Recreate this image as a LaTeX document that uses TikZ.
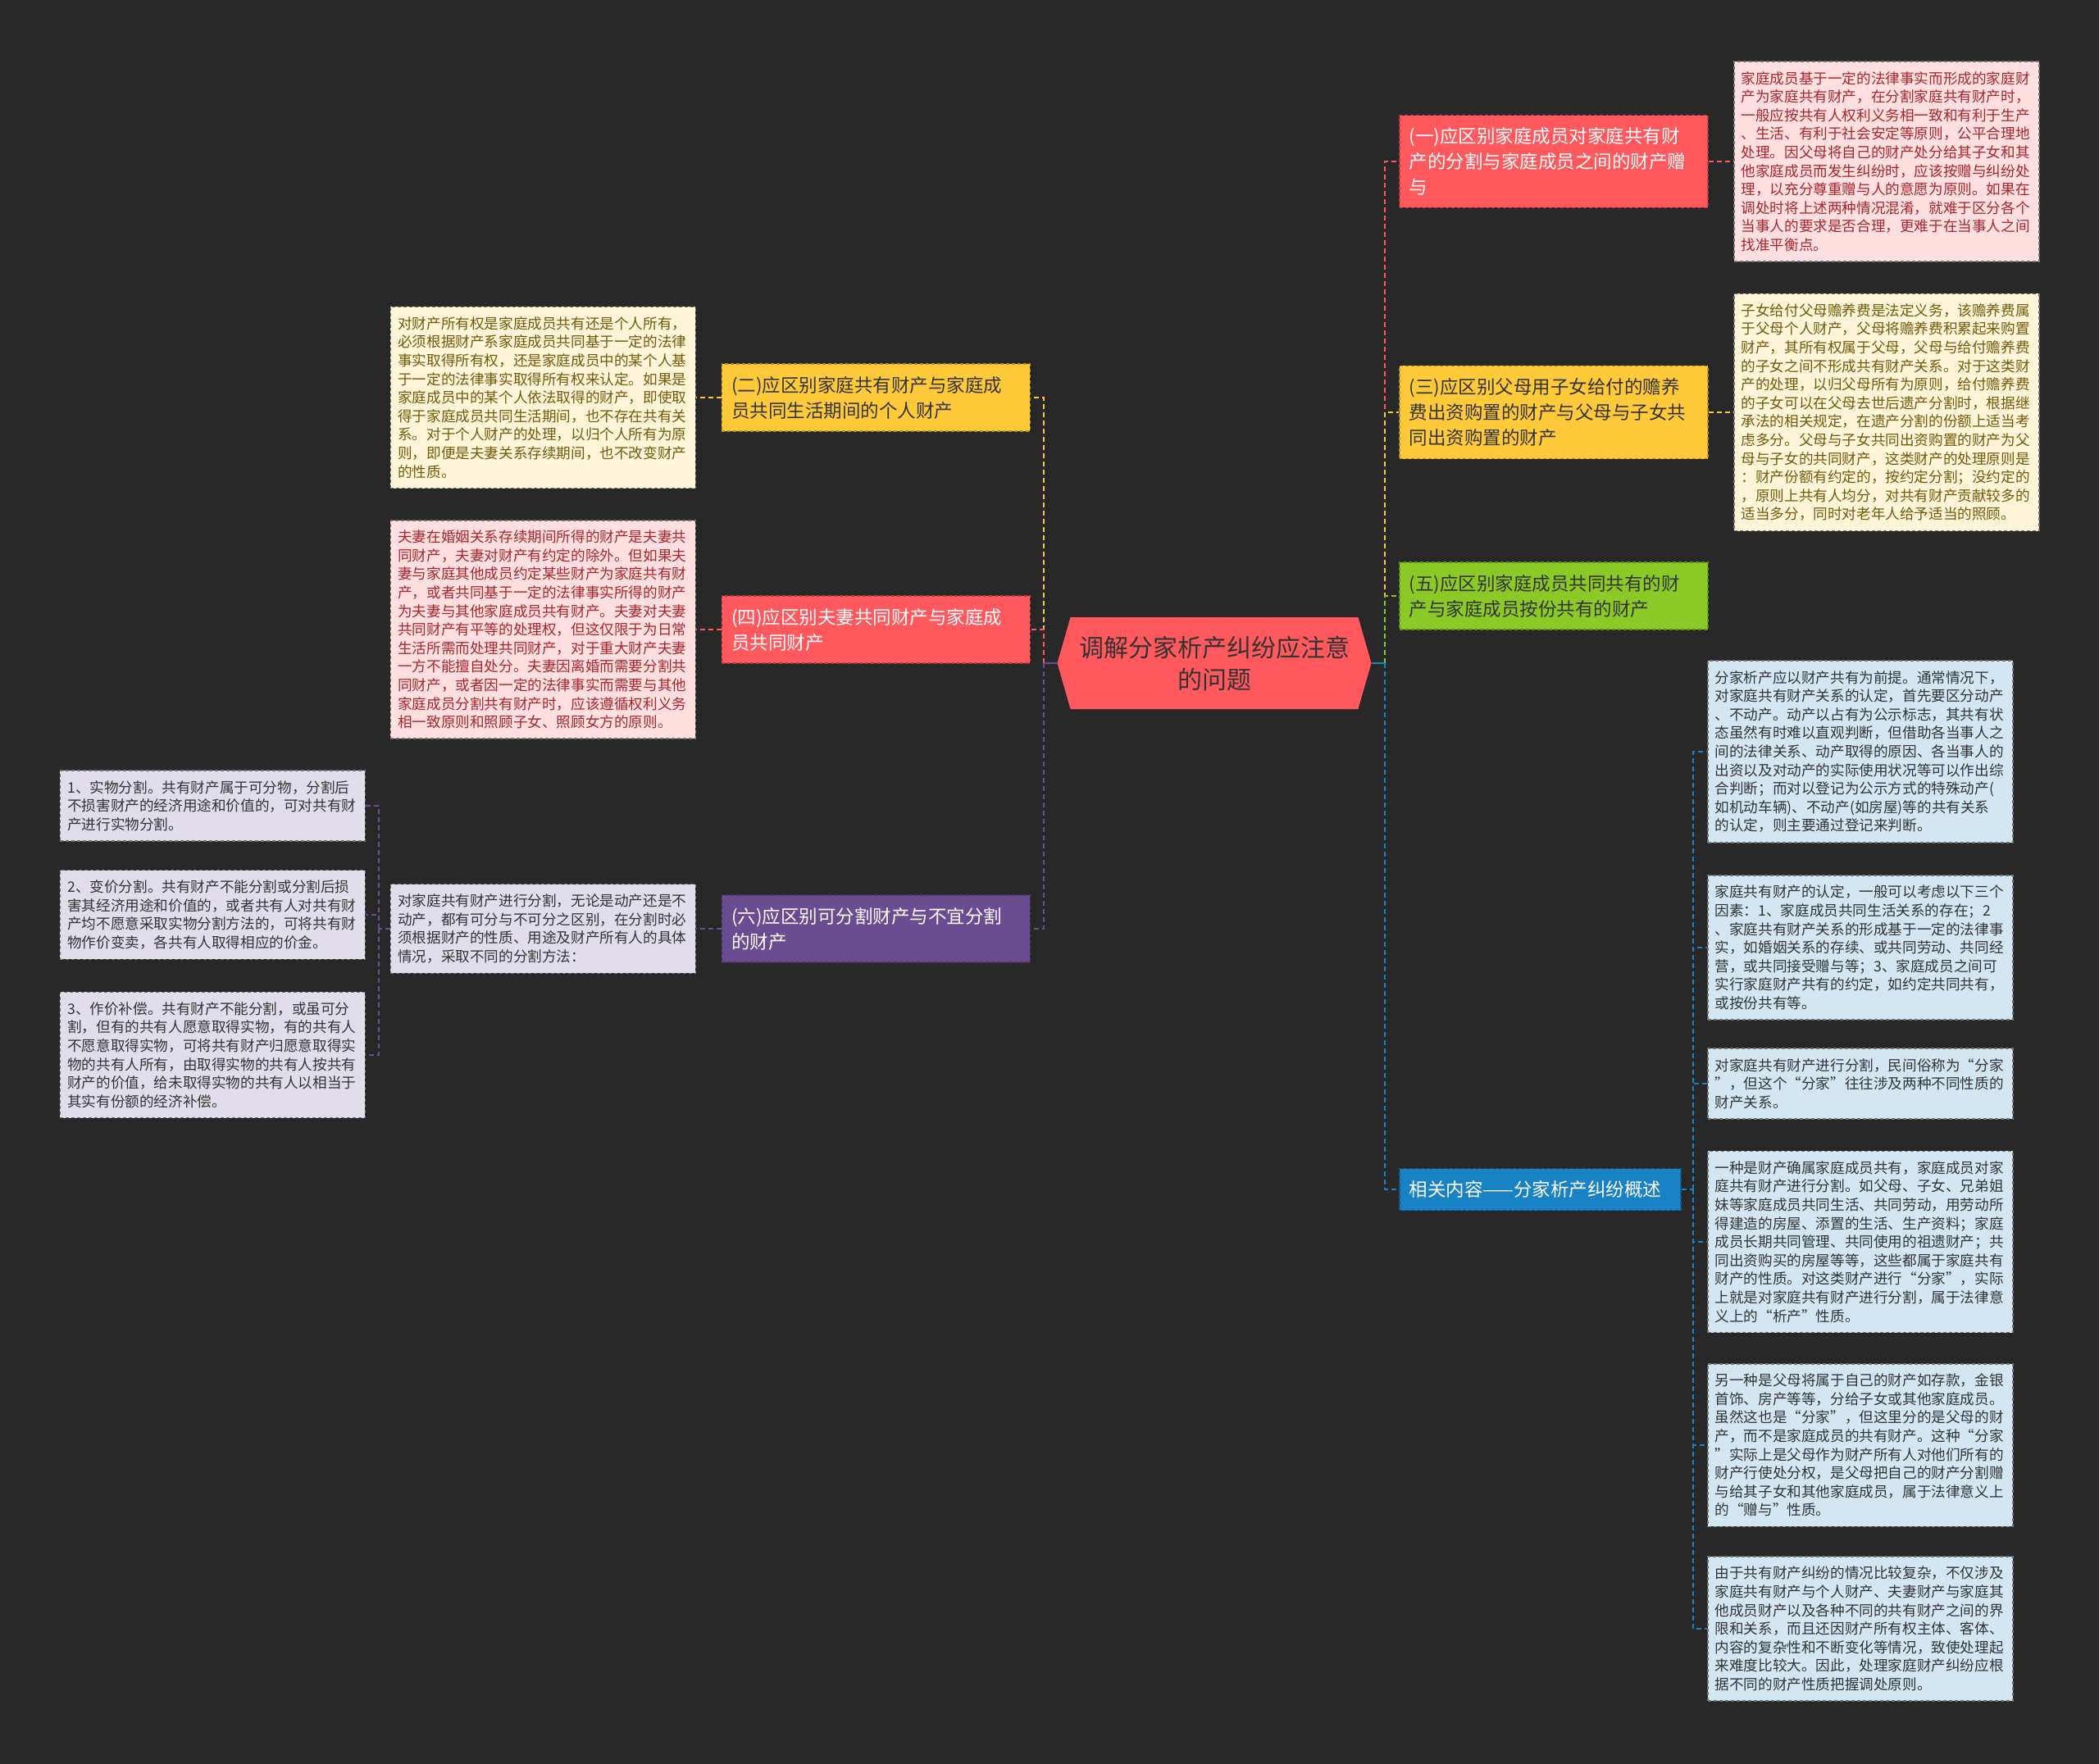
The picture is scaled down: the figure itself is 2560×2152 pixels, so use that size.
\documentclass[tikz,border=0pt]{standalone}
\usepackage{fontspec}
\setmainfont{Noto Sans CJK SC}
\usepackage{tikz}
\usetikzlibrary{shapes.symbols}
\definecolor{canvas}{HTML}{282828}
\definecolor{cred}{HTML}{FF595E}
\definecolor{cyellow}{HTML}{FFCA3A}
\definecolor{cgreen}{HTML}{8AC926}
\definecolor{cblue}{HTML}{1982C4}
\definecolor{cpurple}{HTML}{6A4C93}
\definecolor{notered}{HTML}{FFDFE0}
\definecolor{noteyellow}{HTML}{FFF5D8}
\definecolor{notepurple}{HTML}{E2DDEB}
\definecolor{noteblue}{HTML}{D3E7F3}
\definecolor{ink}{HTML}{333333}
\definecolor{redink}{HTML}{A8262C}
\definecolor{oliveink}{HTML}{725A0C}

\begin{document}
\begin{tikzpicture}[
  x=1pt, y=-1pt,
  every node/.style={font=\fontsize{17.6}{22.6}\selectfont},
  topic/.style={
    signal, signal to=east and west, signal pointer angle=148,
    fill=cred, text=ink, align=center, inner sep=4pt,
    minimum width=383pt, minimum height=112pt,
    font=\fontsize{30}{39}\selectfont,
  },
  branch/.style={
    draw=#1!70!black, fill=#1, line width=1.5pt, dash pattern=on 4pt off 3pt,
    text width=352pt, align=left, inner xsep=12pt, inner ysep=15pt,
    font=\fontsize{22.5}{31}\selectfont,
  },
  note/.style={
    draw=black!55, fill=#1, line width=1.5pt, dash pattern=on 4pt off 3pt,
    text width=354pt, align=left, inner xsep=9pt, inner ysep=12pt,
  },
  link/.style={draw=#1, line width=2pt, dash pattern=on 6pt off 4pt},
]
  \fill[canvas] (0,0) rectangle (2560,2152);

  \node[topic] (root) at (1481, 809) {调解分家析产纠纷应注意\\的问题};

  \node[branch=cred, text=white, anchor=west]    (n1) at (1706, 197)  {(一)应区别家庭成员对家庭共有财\\产的分割与家庭成员之间的财产赠\\与};
  \node[branch=cyellow, text=ink, anchor=west]   (n3) at (1706, 503)  {(三)应区别父母用子女给付的赡养\\费出资购置的财产与父母与子女共\\同出资购置的财产};
  \node[branch=cgreen, text=ink, anchor=west]    (n5) at (1706, 727)  {(五)应区别家庭成员共同共有的财\\产与家庭成员按份共有的财产};
  \node[branch=cblue, text=white, anchor=west, text width=319pt] (n7) at (1706, 1451) {相关内容——分家析产纠纷概述};

  \node[branch=cyellow, text=ink, anchor=east]   (n2) at (1257, 485)  {(二)应区别家庭共有财产与家庭成\\员共同生活期间的个人财产};
  \node[branch=cred, text=white, anchor=east]    (n4) at (1257, 768)  {(四)应区别夫妻共同财产与家庭成\\员共同财产};
  \node[branch=cpurple, text=white, anchor=east] (n6) at (1257, 1133) {(六)应区别可分割财产与不宜分割\\的财产};

  \node[note=notered, text=redink, anchor=west] (l1) at (2114, 197) {家庭成员基于一定的法律事实而形成的家庭财\\产为家庭共有财产，在分割家庭共有财产时，\\一般应按共有人权利义务相一致和有利于生产\\、生活、有利于社会安定等原则，公平合理地\\处理。因父母将自己的财产处分给其子女和其\\他家庭成员而发生纠纷时，应该按赠与纠纷处\\理，以充分尊重赠与人的意愿为原则。如果在\\调处时将上述两种情况混淆，就难于区分各个\\当事人的要求是否合理，更难于在当事人之间\\找准平衡点。};
  \node[note=noteyellow, text=oliveink, anchor=west] (l3) at (2114, 503) {子女给付父母赡养费是法定义务，该赡养费属\\于父母个人财产，父母将赡养费积累起来购置\\财产，其所有权属于父母，父母与给付赡养费\\的子女之间不形成共有财产关系。对于这类财\\产的处理，以归父母所有为原则，给付赡养费\\的子女可以在父母去世后遗产分割时，根据继\\承法的相关规定，在遗产分割的份额上适当考\\虑多分。父母与子女共同出资购置的财产为父\\母与子女的共同财产，这类财产的处理原则是\\：财产份额有约定的，按约定分割；没约定的\\，原则上共有人均分，对共有财产贡献较多的\\适当多分，同时对老年人给予适当的照顾。};

  \node[note=noteblue, text=ink, anchor=west] (b1) at (2082, 917)  {分家析产应以财产共有为前提。通常情况下，\\对家庭共有财产关系的认定，首先要区分动产\\、不动产。动产以占有为公示标志，其共有状\\态虽然有时难以直观判断，但借助各当事人之\\间的法律关系、动产取得的原因、各当事人的\\出资以及对动产的实际使用状况等可以作出综\\合判断；而对以登记为公示方式的特殊动产(\\如机动车辆)、不动产(如房屋)等的共有关系\\的认定，则主要通过登记来判断。};
  \node[note=noteblue, text=ink, anchor=west] (b2) at (2082, 1156) {家庭共有财产的认定，一般可以考虑以下三个\\因素：1、家庭成员共同生活关系的存在；2\\、家庭共有财产关系的形成基于一定的法律事\\实，如婚姻关系的存续、或共同劳动、共同经\\营，或共同接受赠与等；3、家庭成员之间可\\实行家庭财产共有的约定，如约定共同共有，\\或按份共有等。};
  \node[note=noteblue, text=ink, anchor=west] (b3) at (2082, 1322) {对家庭共有财产进行分割，民间俗称为“分家\\”，但这个“分家”往往涉及两种不同性质的\\财产关系。};
  \node[note=noteblue, text=ink, anchor=west] (b4) at (2082, 1515) {一种是财产确属家庭成员共有，家庭成员对家\\庭共有财产进行分割。如父母、子女、兄弟姐\\妹等家庭成员共同生活、共同劳动，用劳动所\\得建造的房屋、添置的生活、生产资料；家庭\\成员长期共同管理、共同使用的祖遗财产；共\\同出资购买的房屋等等，这些都属于家庭共有\\财产的性质。对这类财产进行“分家”，实际\\上就是对家庭共有财产进行分割，属于法律意\\义上的“析产”性质。};
  \node[note=noteblue, text=ink, anchor=west] (b5) at (2082, 1763) {另一种是父母将属于自己的财产如存款，金银\\首饰、房产等等，分给子女或其他家庭成员。\\虽然这也是“分家”，但这里分的是父母的财\\产，而不是家庭成员的共有财产。这种“分家\\”实际上是父母作为财产所有人对他们所有的\\财产行使处分权，是父母把自己的财产分割赠\\与给其子女和其他家庭成员，属于法律意义上\\的“赠与”性质。};
  \node[note=noteblue, text=ink, anchor=west] (b6) at (2082, 1987) {由于共有财产纠纷的情况比较复杂，不仅涉及\\家庭共有财产与个人财产、夫妻财产与家庭其\\他成员财产以及各种不同的共有财产之间的界\\限和关系，而且还因财产所有权主体、客体、\\内容的复杂性和不断变化等情况，致使处理起\\来难度比较大。因此，处理家庭财产纠纷应根\\据不同的财产性质把握调处原则。};

  \node[note=noteyellow, text=oliveink, anchor=east] (l2) at (849, 485) {对财产所有权是家庭成员共有还是个人所有，\\必须根据财产系家庭成员共同基于一定的法律\\事实取得所有权，还是家庭成员中的某个人基\\于一定的法律事实取得所有权来认定。如果是\\家庭成员中的某个人依法取得的财产，即使取\\得于家庭成员共同生活期间，也不存在共有关\\系。对于个人财产的处理，以归个人所有为原\\则，即便是夫妻关系存续期间，也不改变财产\\的性质。};
  \node[note=notered, text=redink, anchor=east] (l4) at (849, 768) {夫妻在婚姻关系存续期间所得的财产是夫妻共\\同财产，夫妻对财产有约定的除外。但如果夫\\妻与家庭其他成员约定某些财产为家庭共有财\\产，或者共同基于一定的法律事实所得的财产\\为夫妻与其他家庭成员共有财产。夫妻对夫妻\\共同财产有平等的处理权，但这仅限于为日常\\生活所需而处理共同财产，对于重大财产夫妻\\一方不能擅自处分。夫妻因离婚而需要分割共\\同财产，或者因一定的法律事实而需要与其他\\家庭成员分割共有财产时，应该遵循权利义务\\相一致原则和照顾子女、照顾女方的原则。};
  \node[note=notepurple, text=ink, anchor=east] (l6) at (849, 1133) {对家庭共有财产进行分割，无论是动产还是不\\动产，都有可分与不可分之区别，在分割时必\\须根据财产的性质、用途及财产所有人的具体\\情况，采取不同的分割方法：};

  \node[note=notepurple, text=ink, anchor=east] (f1) at (446, 983)  {1、实物分割。共有财产属于可分物，分割后\\不损害财产的经济用途和价值的，可对共有财\\产进行实物分割。};
  \node[note=notepurple, text=ink, anchor=east] (f2) at (446, 1116) {2、变价分割。共有财产不能分割或分割后损\\害其经济用途和价值的，或者共有人对共有财\\产均不愿意采取实物分割方法的，可将共有财\\物作价变卖，各共有人取得相应的价金。};
  \node[note=notepurple, text=ink, anchor=east] (f3) at (446, 1287) {3、作价补偿。共有财产不能分割，或虽可分\\割，但有的共有人愿意取得实物，有的共有人\\不愿意取得实物，可将共有财产归愿意取得实\\物的共有人所有，由取得实物的共有人按共有\\财产的价值，给未取得实物的共有人以相当于\\其实有份额的经济补偿。};

  \coordinate (hubL) at (1273, 809);
  \coordinate (hubR) at (1689, 809);
  \coordinate (hubF) at (462, 1133);
  \coordinate (hubB) at (2065, 1451);

  \draw[link=cyellow] (hubL) |- (n2.east);
  \draw[link=cred]    (hubL) |- (n4.east);
  \draw[link=cpurple] (hubL) |- (n6.east);
  \draw[link=cpurple, solid] (root.west) -- (hubL);

  \draw[link=cred]    (hubR) |- (n1.west);
  \draw[link=cyellow] (hubR) |- (n3.west);
  \draw[link=cgreen]  (hubR) |- (n5.west);
  \draw[link=cblue]   (hubR) |- (n7.west);
  \draw[link=cblue, solid] (root.east) -- (hubR);

  \draw[link=cred]    (n1.east) -- (l1.west);
  \draw[link=cyellow] (n3.east) -- (l3.west);
  \draw[link=cyellow] (n2.west) -- (l2.east);
  \draw[link=cred]    (n4.west) -- (l4.east);
  \draw[link=cpurple] (n6.west) -- (l6.east);

  \draw[link=cpurple] (l6.west) -- (hubF);
  \draw[link=cpurple] (hubF) |- (f1.east);
  \draw[link=cpurple] (hubF) |- (f2.east);
  \draw[link=cpurple] (hubF) |- (f3.east);

  \draw[link=cblue] (n7.east) -- (hubB);
  \draw[link=cblue] (hubB) |- (b1.west);
  \draw[link=cblue] (hubB) |- (b2.west);
  \draw[link=cblue] (hubB) |- (b3.west);
  \draw[link=cblue] (hubB) |- (b4.west);
  \draw[link=cblue] (hubB) |- (b5.west);
  \draw[link=cblue] (hubB) |- (b6.west);
\end{tikzpicture}
\end{document}
